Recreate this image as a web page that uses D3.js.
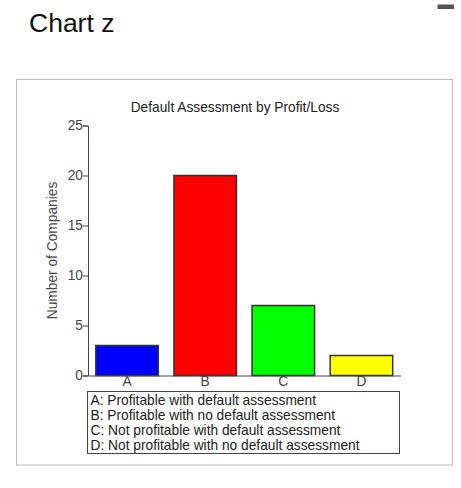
<!DOCTYPE html>
<html>
<head>
<meta charset="utf-8">
<script src="https://cdn.jsdelivr.net/npm/d3@7"></script>
<style>
  body { margin: 0; background: #fff; font-family: Arial, "Liberation Sans", sans-serif; }
</style>
</head>
<body>
<div id="chart"></div>
<script>
// data
const categories = ["A", "B", "C", "D"];
const counts = [3, 20, 7, 2];
const barColors = ["#0000ff", "#ff0000", "#00ff00", "#ffff00"];
const yTicks = [0, 5, 10, 15, 20, 25];
const legendLines = [
  "A: Profitable with default assessment",
  "B: Profitable with no default assessment",
  "C: Not profitable with default assessment",
  "D: Not profitable with no default assessment"
];

const data = categories.map((c, i) => ({name: c, value: counts[i], color: barColors[i]}));

const fs = "13.75px";

const svg = d3.select("#chart")
  .append("svg")
  .attr("width", 461)
  .attr("height", 488);

// page title + minimise icon
svg.append("text")
  .attr("x", 29).attr("y", 32)
  .style("font-size", "26.5px")
  .style("fill", "#111")
  .text("Chart z");
svg.append("rect")
  .attr("x", 437.5).attr("y", 4.5).attr("width", 16.5).attr("height", 4.5)
  .attr("fill", "#555");

// faint separator and panel
svg.append("line")
  .attr("x1", 16).attr("x2", 453).attr("y1", 74).attr("y2", 74)
  .attr("stroke", "#f2f2f2");
svg.append("rect")
  .attr("x", 16.5).attr("y", 79.5).attr("width", 436).attr("height", 385.5)
  .attr("fill", "#fff").attr("stroke", "#bdbdbd");

const plot = {left: 88, right: 400.5, top: 125.5, bottom: 375.5};

const x = d3.scaleBand()
  .domain(categories)
  .range([plot.left, plot.right])
  .paddingInner(0.2)
  .paddingOuter(0.1);

const y = d3.scaleLinear()
  .domain([0, 25])
  .range([plot.bottom, plot.top]);

// chart title
svg.append("text")
  .attr("x", 235).attr("y", 111.5)
  .attr("text-anchor", "middle")
  .style("font-size", fs)
  .style("fill", "#222")
  .text("Default Assessment by Profit/Loss");

// y axis
const yAxis = svg.append("g")
  .attr("transform", "translate(" + plot.left + ",0)")
  .call(d3.axisLeft(y).tickValues(yTicks).tickSize(5).tickSizeOuter(5));
yAxis.selectAll("path, line").attr("stroke", "#444");
yAxis.selectAll("text")
  .attr("x", -5)
  .style("font-family", "Arial, 'Liberation Sans', sans-serif")
  .style("font-size", fs)
  .style("fill", "#444");

svg.append("text")
  .attr("transform", "translate(57," + (plot.top + plot.bottom) / 2 + ") rotate(-90)")
  .attr("text-anchor", "middle")
  .style("font-size", fs)
  .style("fill", "#444")
  .text("Number of Companies");

// bars
svg.selectAll("rect.bar")
  .data(data)
  .enter()
  .append("rect")
  .attr("class", "bar")
  .attr("x", d => x(d.name))
  .attr("y", d => y(d.value))
  .attr("width", x.bandwidth())
  .attr("height", d => y(0) - y(d.value))
  .attr("fill", d => d.color)
  .attr("stroke", "#333")
  .attr("stroke-width", 1.5);

// x axis
const xAxis = svg.append("g")
  .attr("transform", "translate(0," + plot.bottom + ")")
  .call(d3.axisBottom(x).tickSize(0).tickSizeOuter(0).tickPadding(1));
xAxis.select("path").attr("stroke", "#444");
xAxis.selectAll("text")
  .style("font-family", "Arial, 'Liberation Sans', sans-serif")
  .style("font-size", fs)
  .style("fill", "#444");

// legend box
const legend = svg.append("g");
legend.append("rect")
  .attr("x", 87.5).attr("y", 391.5).attr("width", 312).attr("height", 62)
  .attr("fill", "#fff").attr("stroke", "#444");
legend.selectAll("text")
  .data(legendLines)
  .enter()
  .append("text")
  .attr("x", 90.5)
  .attr("y", (d, i) => 405 + i * 15)
  .style("font-size", fs)
  .style("fill", "#222")
  .text(d => d);
</script>
</body>
</html>
